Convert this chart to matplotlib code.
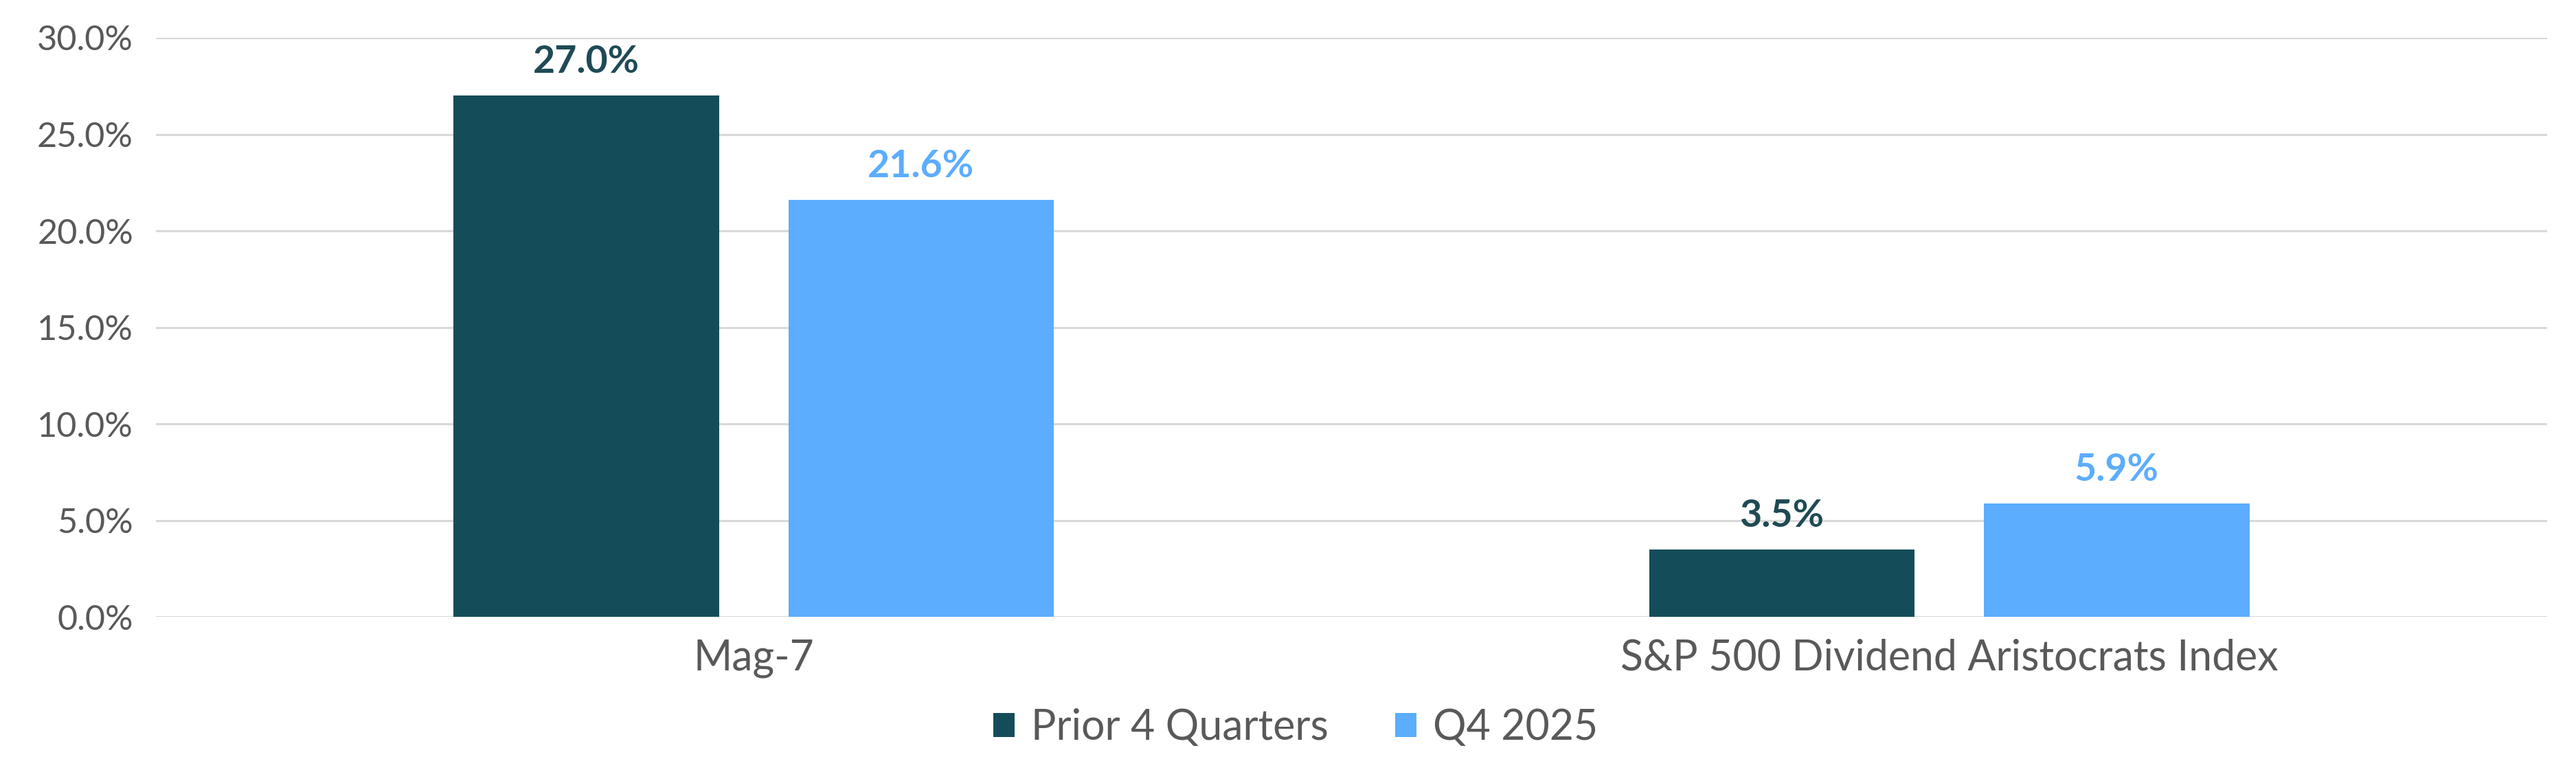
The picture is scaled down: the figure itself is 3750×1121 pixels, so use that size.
import matplotlib.pyplot as plt
import numpy as np
from matplotlib.ticker import FuncFormatter

categories = ["Mag-7", "S&P 500 Dividend Aristocrats Index"]
series_names = ["Prior 4 Quarters", "Q4 2025"]
prior_4q = [27.0, 3.5]
q4_2025 = [21.6, 5.9]

colors = ["#144D59", "#5CADFD"]
label_colors = ["#1F4A55", "#5CADFD"]
text_gray = "#595959"

plt.rcParams["font.family"] = ["Lato", "DejaVu Sans"]

fig = plt.figure(figsize=(15, 4.484), dpi=250)
ax = fig.add_axes([0.0605, 0.1985, 0.9283, 0.7525])

x = np.arange(len(categories))
width = 0.222
offset = 0.14

for i, (vals, name) in enumerate(zip([prior_4q, q4_2025], series_names)):
    pos = x + (i * 2 - 1) * offset
    bars = ax.bar(pos, vals, width=width, color=colors[i], label=name, zorder=3)
    #value labels above each bar
    for b, v in zip(bars, vals):
        ax.text(b.get_x() + b.get_width() / 2, v + 0.85, f"{v:.1f}%",
                ha="center", va="bottom", fontsize=16, fontweight="bold",
                color=label_colors[i], zorder=4)

ax.set_xlim(-0.5, 1.5)
ax.set_ylim(0, 30)
ax.set_yticks(np.arange(0, 31, 5))
ax.yaxis.set_major_formatter(FuncFormatter(lambda v, _: f"{v:.1f}%"))
ax.set_xticks(x)
ax.set_xticklabels(categories, fontsize=17.5)

ax.tick_params(axis="both", length=0, labelcolor=text_gray)
ax.tick_params(axis="y", pad=9.5, labelsize=14.5)
ax.tick_params(axis="x", pad=9)

for s in ax.spines.values():
    s.set_visible(False)
ax.grid(axis="y", color="#D9D9D9", linewidth=0.9, zorder=0)
ax.set_axisbelow(True)

fig.legend(loc="center", bbox_to_anchor=(0.503, 0.055), ncol=2, frameon=False,
           fontsize=17.5, labelcolor=text_gray,
           handlelength=0.5, handleheight=0.5, handletextpad=0.4,
           columnspacing=1.6)

fig.savefig("out.png", dpi=250)
